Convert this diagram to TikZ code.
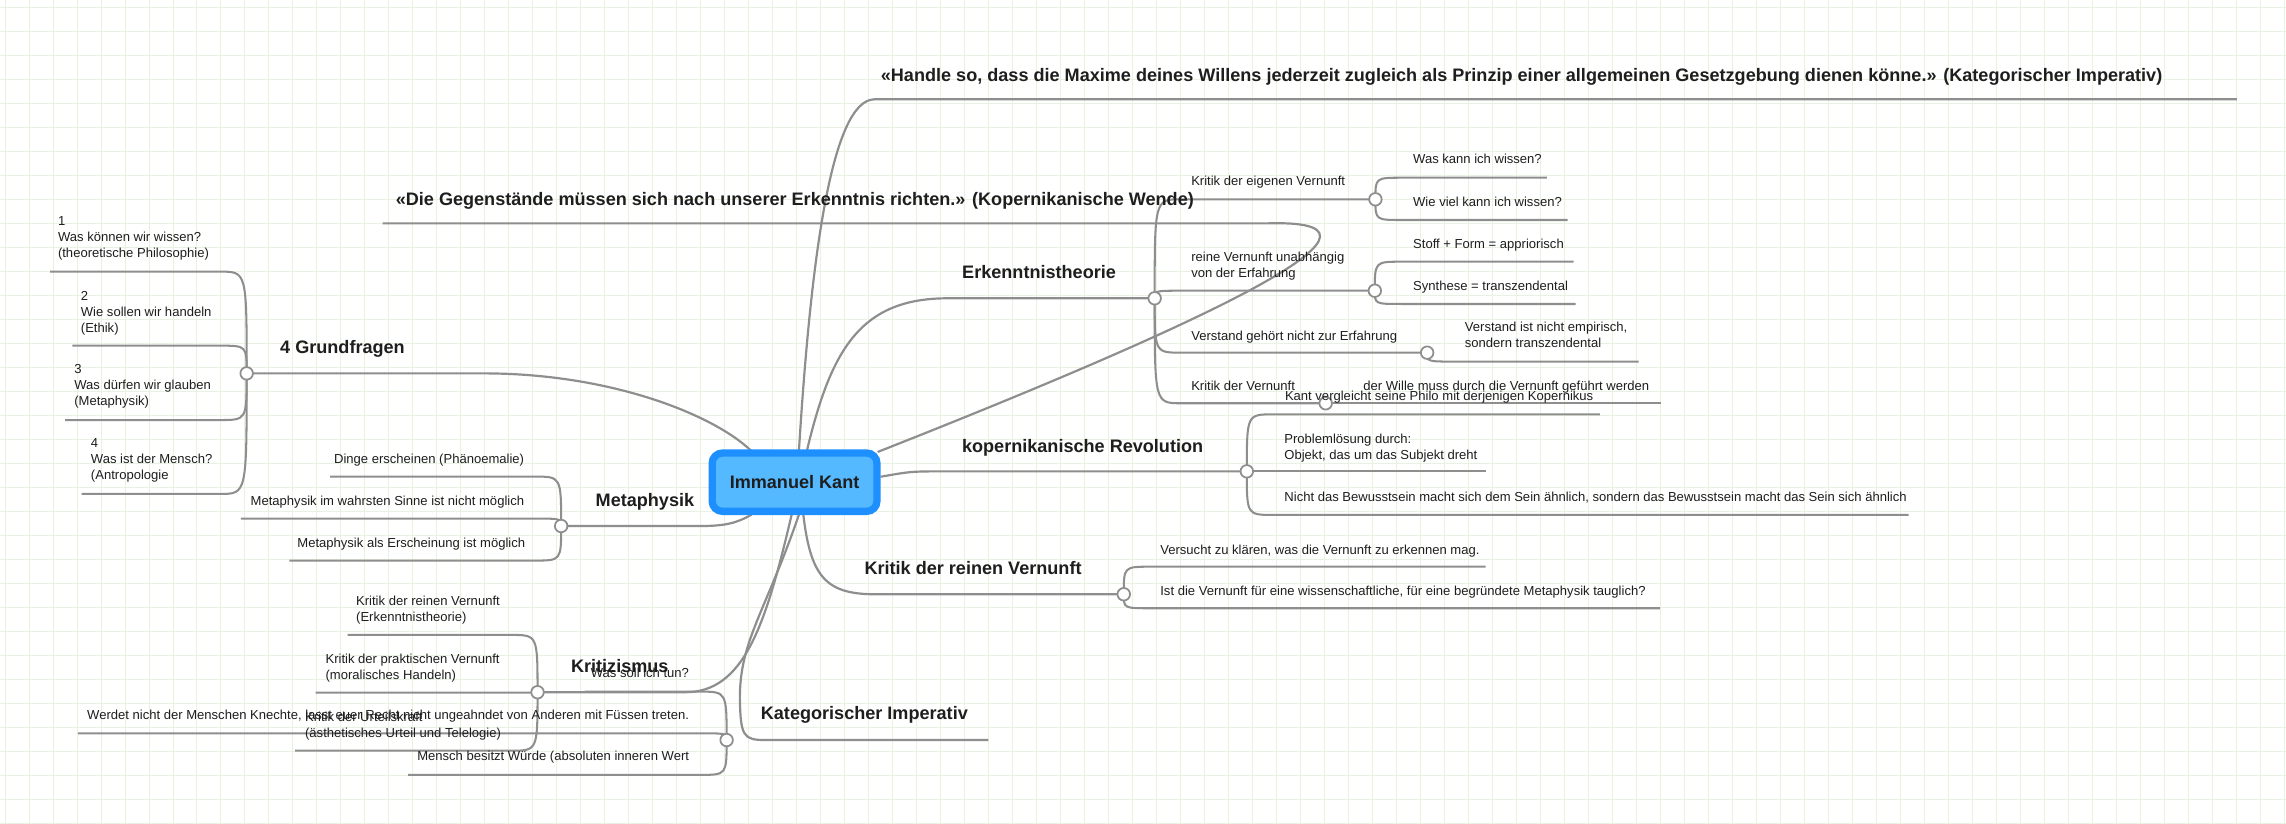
\documentclass[tikz,border=0pt]{standalone}
\usepackage{fontspec}
\setmainfont{Liberation Sans}
\usetikzlibrary{calc}
\definecolor{gridc}{HTML}{E9F2E1}
\definecolor{linec}{HTML}{8E8E8E}
\definecolor{txt}{HTML}{1E1E1E}
\definecolor{kantborder}{HTML}{1E8FFF}
\definecolor{kantfill}{HTML}{55B9FF}
\newcommand\mmkid[3]{\draw[conn] (#1) .. controls (#1 |- #2) .. ($(#1 |- #2)+(#3,0)$) -- (#2);}
\tikzset{
  gridl/.style={draw=gridc, line width=0.6pt},
  conn/.style={draw=linec, line width=1.4pt},
  branch/.style={draw=linec, line width=1.5pt},
  dot/.style={circle, draw=linec, fill=white, line width=1.2pt, inner sep=0pt, minimum size=8.6pt},
  small/.style={font=\fontsize{8.95}{11}\selectfont, text=txt, inner sep=0pt},
  title/.style={font=\fontsize{12.4}{15}\selectfont\bfseries, text=txt, inner sep=0pt},
  kantbox/.style={draw=kantborder, fill=kantfill, line width=5pt, rounded corners=7pt,
    minimum width=113pt, minimum height=40pt, inner sep=0pt,
    font=\fontsize{12.4}{15}\selectfont\bfseries, text=txt}
}
\begin{document}
\begin{tikzpicture}[x=1pt,y=-1pt]
\useasboundingbox (0,0) rectangle (1568,565);
\fill[white] (0,0) rectangle (1568,565);
\foreach \i in {0,...,95} \draw[gridl] ({3.4+16.46*\i},0) -- ({3.4+16.46*\i},565);
\foreach \j in {0,...,34} \draw[gridl] (0,{5+16.46*\j}) -- (1568,{5+16.46*\j});

% anchor points on the central node
\coordinate (kT1) at (548,309);
\coordinate (kT2) at (553.5,309);
\coordinate (kTR) at (602,310);
\coordinate (kR)  at (604,327);
\coordinate (kBR) at (551,353);
\coordinate (kTL) at (515,309);
\coordinate (kBL) at (515.4,353);
\coordinate (kB1) at (543,353);
\coordinate (kB2) at (548,353);
% junctions
\coordinate (cErk) at (792,204.6);
\coordinate (cKeV) at (943.4,136.7);
\coordinate (cRV)  at (943,199.4);
\coordinate (cVer) at (978.9,241.9);
\coordinate (cKdV) at (909.3,276.6);
\coordinate (cKR)  at (855.2,323.3);
\coordinate (cKrV) at (770.8,407.6);
\coordinate (cGF)  at (169.2,256.1);
\coordinate (cMet) at (384.9,360.8);
\coordinate (cKri) at (368.7,474.8);
\coordinate (cKI)  at (498.4,507.6);
% free ends
\coordinate (eQ1) at (1534.3,68.1);
\coordinate (eQ2) at (262.5,153.2);
\coordinate (eKeV1) at (1061,121.9);
\coordinate (eKeV2) at (1075.2,150.9);
\coordinate (eRV1) at (1079.4,179.5);
\coordinate (eRV2) at (1080.7,208.5);
\coordinate (eVer) at (1124,248);
\coordinate (eKdV) at (1139,276.6);
\coordinate (eKR1) at (1097.4,284.2);
\coordinate (eKR2) at (1019,323.3);
\coordinate (eKR3) at (1309.1,353.2);
\coordinate (eKrV1) at (1019,388.7);
\coordinate (eKrV2) at (1138.7,417.2);
\coordinate (eGF1) at (34.3,186.3);
\coordinate (eGF2) at (49.6,237.1);
\coordinate (eGF3) at (44.6,288.1);
\coordinate (eGF4) at (56,338.8);
\coordinate (eMet1) at (226.4,326.9);
\coordinate (eMet2) at (165.2,355.7);
\coordinate (eMet3) at (198.4,384.5);
\coordinate (eKri1) at (238.4,435.5);
\coordinate (eKri2) at (216.5,475.1);
\coordinate (eKri3) at (202.5,514.9);
\coordinate (eKI0) at (677.9,507.6);
\coordinate (eKI1) at (401.2,474.4);
\coordinate (eKI2) at (53.4,503);
\coordinate (eKI3) at (280,531.5);

% main branches
\draw[branch] (kT1) .. controls (556,180) and (570,68.1) .. (600,68.1) -- (eQ1);
\draw[branch] (kT2) .. controls (570,240) and (590,204.6) .. (650,204.6) -- (cErk);
\draw[branch] (kTR) .. controls (800,232) and (985,150) .. (870,153.2) -- (eQ2);
\draw[branch] (kR) .. controls (625,323.3) .. (650,323.3) -- (cKR);
\draw[branch] (kBR) .. controls (556,395) and (566,407.6) .. (600,407.6) -- (cKrV);
\draw[branch] (kTL) .. controls (490,285) and (420,256.1) .. (331.5,256.1) -- (cGF);
\draw[branch] (kBL) .. controls (505,359) and (497,360.8) .. (480,360.8) -- (cMet);
\draw[branch] (kB1) .. controls (525,430) and (510,474.8) .. (470,474.8) -- (cKri);
\draw[branch] (kB2) .. controls (525,420) and (507,440) .. (507.5,480) .. controls (508,505) and (510,507.6) .. (525,507.6) -- (eKI0);

% sub branches
\mmkid{cErk}{cKeV}{18.3}
\mmkid{cErk}{cRV}{18.3}
\mmkid{cErk}{cVer}{18.3}
\mmkid{cErk}{cKdV}{18.3}
\mmkid{cKeV}{eKeV1}{18.3}
\mmkid{cKeV}{eKeV2}{18.3}
\mmkid{cRV}{eRV1}{18.3}
\mmkid{cRV}{eRV2}{18.3}
\mmkid{cVer}{eVer}{18.3}
\mmkid{cKdV}{eKdV}{18.3}
\mmkid{cKR}{eKR1}{18.3}
\mmkid{cKR}{eKR2}{18.3}
\mmkid{cKR}{eKR3}{18.3}
\mmkid{cKrV}{eKrV1}{18.3}
\mmkid{cKrV}{eKrV2}{18.3}
\mmkid{cGF}{eGF1}{-18.3}
\mmkid{cGF}{eGF2}{-18.3}
\mmkid{cGF}{eGF3}{-18.3}
\mmkid{cGF}{eGF4}{-18.3}
\mmkid{cMet}{eMet1}{-18.3}
\mmkid{cMet}{eMet2}{-18.3}
\mmkid{cMet}{eMet3}{-18.3}
\mmkid{cKri}{eKri1}{-18.3}
\mmkid{cKri}{eKri2}{-18.3}
\mmkid{cKri}{eKri3}{-18.3}
\mmkid{cKI}{eKI1}{-18.3}
\mmkid{cKI}{eKI2}{-18.3}
\mmkid{cKI}{eKI3}{-18.3}

% junction dots
\foreach \c in {cErk,cKeV,cRV,cVer,cKdV,cKR,cKrV,cGF,cMet,cKri,cKI}
  \node[dot] (n\c) at (\c) {};

% central node
\node[kantbox] (kant) at (545,330.75) {Immanuel Kant};

% titles
\node[title, anchor=base west] (tQ1) at (604,55.8) {«Handle so, dass die Maxime deines Willens jederzeit zugleich als Prinzip einer allgemeinen Gesetzgebung dienen könne.» (Kategorischer Imperativ)};
\node[title, anchor=base west] (tQ2) at (271.3,141.1) {«Die Gegenstände müssen sich nach unserer Erkenntnis richten.» (Kopernikanische Wende)};
\node[title, anchor=base west] (tErk) at (659.8,190.7) {Erkenntnistheorie};
\node[title, anchor=base west] (tKR) at (659.7,310.1) {kopernikanische Revolution};
\node[title, anchor=base west] (tKrV) at (592.8,394.2) {Kritik der reinen Vernunft};
\node[title, anchor=base west] (tGF) at (192,242.6) {4 Grundfragen};
\node[title, anchor=base west] (tMet) at (408.4,347.3) {Metaphysik};
\node[title, anchor=base west] (tKri) at (391.5,461) {Kritizismus};
\node[title, anchor=base west] (tKI) at (521.7,493.6) {Kategorischer Imperativ};

% right side leaves
\node[small, anchor=base west] (sKeV) at (816.9,127.3) {Kritik der eigenen Vernunft};
\node[small, anchor=base west] (sW1) at (969.1,112.2) {Was kann ich wissen?};
\node[small, anchor=base west] (sW2) at (969.1,141.9) {Wie viel kann ich wissen?};
\node[small, anchor=base west] (sRV) at (816.9,179.6) {\vtop{\hbox{reine Vernunft unabhängig}\hbox{von der Erfahrung}}};
\node[small, anchor=base west] (sSF) at (969.1,170.7) {Stoff + Form = appriorisch};
\node[small, anchor=base west] (sSy) at (969.1,199) {Synthese = transzendental};
\node[small, anchor=base west] (sVer) at (816.9,233.3) {Verstand gehört nicht zur Erfahrung};
\node[small, anchor=base west] (sVe2) at (1004.6,227.6) {\vtop{\hbox{Verstand ist nicht empirisch,}\hbox{sondern transzendental}}};
\node[small, anchor=base west] (sKdV) at (816.9,267.6) {Kritik der Vernunft};
\node[small, anchor=base west] (sWil) at (935,267.6) {der Wille muss durch die Vernunft geführt werden};
\node[small, anchor=base west] (sKop) at (881.2,274.7) {Kant vergleicht seine Philo mit derjenigen Kopernikus};
\node[small, anchor=base west] (sPro) at (880.8,304.4) {\vtop{\hbox{Problemlösung durch:}\hbox{Objekt, das um das Subjekt dreht}}};
\node[small, anchor=base west] (sNic) at (880.8,344.2) {Nicht das Bewusstsein macht sich dem Sein ähnlich, sondern das Bewusstsein macht das Sein sich ähnlich};
\node[small, anchor=base west] (sVk) at (795.7,380.3) {Versucht zu klären, was die Vernunft zu erkennen mag.};
\node[small, anchor=base west] (sIst) at (795.7,408.4) {Ist die Vernunft für eine wissenschaftliche, für eine begründete Metaphysik tauglich?};

% left side leaves
\node[small, anchor=base west] (sG1) at (39.6,154.7) {\vtop{\hbox{1}\hbox{Was können wir wissen?}\hbox{(theoretische Philosophie)}}};
\node[small, anchor=base west] (sG2) at (55.3,205.9) {\vtop{\hbox{2}\hbox{Wie sollen wir handeln}\hbox{(Ethik)}}};
\node[small, anchor=base west] (sG3) at (50.8,256.4) {\vtop{\hbox{3}\hbox{Was dürfen wir glauben}\hbox{(Metaphysik)}}};
\node[small, anchor=base west] (sG4) at (62.2,307.2) {\vtop{\hbox{4}\hbox{Was ist der Mensch?}\hbox{(Antropologie}}};
\node[small, anchor=base east] (sM1) at (359.7,317.9) {Dinge erscheinen (Phänoemalie)};
\node[small, anchor=base east] (sM2) at (359.7,346.5) {Metaphysik im wahrsten Sinne ist nicht möglich};
\node[small, anchor=base east] (sM3) at (360.4,375.3) {Metaphysik als Erscheinung ist möglich};
\node[small, anchor=base west] (sK1) at (244.1,415.3) {\vtop{\hbox{Kritik der reinen Vernunft}\hbox{(Erkenntnistheorie)}}};
\node[small, anchor=base west] (sK2) at (223.1,455.1) {\vtop{\hbox{Kritik der praktischen Vernunft}\hbox{(moralisches Handeln)}}};
\node[small, anchor=base west] (sK3) at (209.1,494.6) {\vtop{\hbox{Kritik der Urteilskraft}\hbox{(ästhetisches Urteil und Telelogie)}}};
\node[small, anchor=base east] (sI1) at (472.8,464.5) {Was soll ich tun?};
\node[small, anchor=base east] (sI2) at (472.8,493.5) {Werdet nicht der Menschen Knechte, lasst euer Recht nicht ungeahndet von Anderen mit Füssen treten.};
\node[small, anchor=base east] (sI3) at (472.8,521.6) {Mensch besitzt Würde (absoluten inneren Wert};
\end{tikzpicture}
\end{document}
